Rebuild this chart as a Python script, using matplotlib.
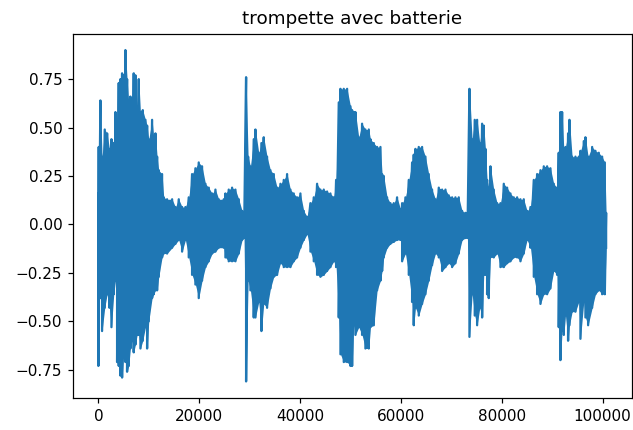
import numpy as np
import matplotlib
matplotlib.use("Agg")
import matplotlib.pyplot as plt

# positions (échantillons) où l'enveloppe a été lue
env_pos = [
    0, 70, 400, 730, 1260, 1730, 2190, 2590, 3050, 3380,
    3710, 4040, 4370, 4700, 5030, 5360, 5690, 6020, 6350, 6680,
    7010, 7340, 7680, 8010, 8340, 8800, 9330, 9660, 9990, 10650,
    10980, 11310, 11640, 11970, 12630, 12960, 13620, 14620, 15280, 15940,
    16600, 17260, 17920, 18580, 19240, 19900, 20560, 21230, 21890, 22550,
    23210, 23870, 24860,
    25190, 25850, 26510, 27170, 27840, 28500, 28890, 29290, 29690, 30150,
    30810, 31140, 31800, 32330, 32790, 33450, 34120, 34780, 35440, 36100,
    36760, 37420, 38080, 38740, 39400, 40060, 40730, 41390, 42050, 42710,
    43370, 44030, 44690, 45350, 46010, 46670, 47140, 47670, 48000, 48660,
    49320, 49980,
    50310, 50640, 50970, 51630, 52290, 52950, 53620, 53950, 54610, 55270,
    55930, 56260, 56590, 57250, 57910, 58570, 59230, 59900, 60230, 60890,
    61550, 62210, 62540, 62870, 63530, 64190, 64850, 65510, 66170, 66840,
    67500, 68160, 68820, 69480, 70140, 70800, 71460, 72120, 72780, 73180,
    73580, 74110, 74630, 75100, 75630,
    76090, 76420, 76750, 77080, 77410, 77740, 78400, 79070, 79730, 80390,
    81050, 81710, 82370, 83030, 83690, 84350, 85010, 85680, 86340, 87000,
    87660, 88320, 88980, 89640, 90300, 90960, 91290, 91620, 91950, 92290,
    92620, 93140, 93410, 93940, 94600, 95260, 95590, 96250, 96580, 97110,
    97910, 98560, 99230, 99890, 100420, 100680,
]

# crêtes positives
env_hi = [
    0.16, 0.40, 0.64, 0.35, 0.49, 0.47, 0.39, 0.44, 0.42, 0.58,
    0.45, 0.73, 0.75, 0.78, 0.77, 0.90, 0.75, 0.63, 0.66, 0.65,
    0.78, 0.77, 0.61, 0.75, 0.58, 0.59, 0.54, 0.51, 0.44, 0.54,
    0.45, 0.47, 0.35, 0.28, 0.26, 0.14, 0.13, 0.13, 0.09, 0.13,
    0.09, 0.09, 0.14, 0.26, 0.29, 0.32, 0.30, 0.21, 0.19, 0.16,
    0.18, 0.13, 0.13,
    0.16, 0.18, 0.19, 0.18, 0.13, 0.07, 0.06, 0.76, 0.35, 0.30,
    0.44, 0.49, 0.37, 0.42, 0.45, 0.35, 0.28, 0.26, 0.19, 0.21,
    0.23, 0.26, 0.18, 0.16, 0.14, 0.16, 0.07, 0.04, 0.11, 0.14,
    0.21, 0.18, 0.18, 0.17, 0.16, 0.14, 0.23, 0.63, 0.70, 0.70,
    0.70, 0.61,
    0.59, 0.58, 0.58, 0.45, 0.52, 0.49, 0.49, 0.44, 0.42, 0.40,
    0.40, 0.26, 0.25, 0.14, 0.11, 0.11, 0.14, 0.08, 0.11, 0.14,
    0.23, 0.32, 0.36, 0.39, 0.40, 0.40, 0.35, 0.26, 0.18, 0.13,
    0.19, 0.18, 0.18, 0.15, 0.14, 0.14, 0.14, 0.07, 0.06, 0.06,
    0.70, 0.44, 0.54, 0.54, 0.42,
    0.52, 0.51, 0.39, 0.23, 0.19, 0.30, 0.18, 0.11, 0.11, 0.21,
    0.19, 0.16, 0.14, 0.14, 0.13, 0.13, 0.07, 0.09, 0.23, 0.26,
    0.28, 0.30, 0.30, 0.29, 0.21, 0.19, 0.37, 0.58, 0.58, 0.39,
    0.40, 0.47, 0.54, 0.35, 0.35, 0.35, 0.38, 0.43, 0.45, 0.35,
    0.40, 0.38, 0.37, 0.35, 0.32, 0.06,
]

# crêtes négatives
env_lo = [
    -0.73, -0.29, -0.38, -0.55, -0.43, -0.36, -0.43, -0.53, -0.36, -0.29,
    -0.71, -0.73, -0.78, -0.79, -0.67, -0.71, -0.76, -0.73, -0.64, -0.60,
    -0.66, -0.62, -0.57, -0.57, -0.64, -0.60, -0.53, -0.64, -0.50, -0.38,
    -0.36, -0.34, -0.34, -0.27, -0.17, -0.15, -0.15, -0.12, -0.10, -0.08,
    -0.14, -0.08, -0.17, -0.26, -0.31, -0.38, -0.29, -0.22, -0.19, -0.15,
    -0.14, -0.12, -0.12,
    -0.17, -0.19, -0.19, -0.19, -0.15, -0.08, -0.07, -0.81, -0.29, -0.34,
    -0.48, -0.48, -0.40, -0.55, -0.41, -0.43, -0.33, -0.27, -0.26, -0.20,
    -0.22, -0.22, -0.22, -0.19, -0.17, -0.12, -0.08, -0.05, -0.14, -0.19,
    -0.26, -0.27, -0.26, -0.24, -0.22, -0.19, -0.22, -0.48, -0.67, -0.71,
    -0.71, -0.73,
    -0.73, -0.52, -0.57, -0.53, -0.57, -0.64, -0.64, -0.53, -0.52, -0.34,
    -0.29, -0.24, -0.17, -0.12, -0.10, -0.09, -0.08, -0.08, -0.19, -0.15,
    -0.26, -0.40, -0.52, -0.43, -0.47, -0.41, -0.36, -0.29, -0.21, -0.15,
    -0.17, -0.24, -0.22, -0.20, -0.22, -0.20, -0.15, -0.08, -0.07, -0.07,
    -0.58, -0.36, -0.47, -0.52, -0.43,
    -0.48, -0.26, -0.26, -0.36, -0.38, -0.17, -0.17, -0.15, -0.22, -0.22,
    -0.20, -0.19, -0.17, -0.17, -0.19, -0.15, -0.08, -0.12, -0.27, -0.36,
    -0.41, -0.36, -0.36, -0.33, -0.24, -0.26, -0.53, -0.70, -0.55, -0.57,
    -0.47, -0.60, -0.52, -0.45, -0.45, -0.40, -0.59, -0.40, -0.48, -0.52,
    -0.43, -0.36, -0.34, -0.36, -0.36, -0.12,
]

assert len(env_pos) == len(env_hi) == len(env_lo)

# signal reconstruit: chaque point d'enveloppe donne une crête haute puis basse
x = np.repeat(env_pos, 2)
y = np.column_stack([env_hi, env_lo]).ravel()

fig = plt.figure(figsize=(633 / 110, 430 / 110), dpi=110)
ax = fig.add_axes([73 / 633, 1 - 398 / 430, (631.5 - 73) / 633, (398 - 33.5) / 430])
ax.fill_between(env_pos, env_lo, env_hi, color="C0", lw=0)
ax.plot(x, y, color="C0")
ax.set_title("trompette avec batterie")
fig.savefig("out.png", dpi=110)
